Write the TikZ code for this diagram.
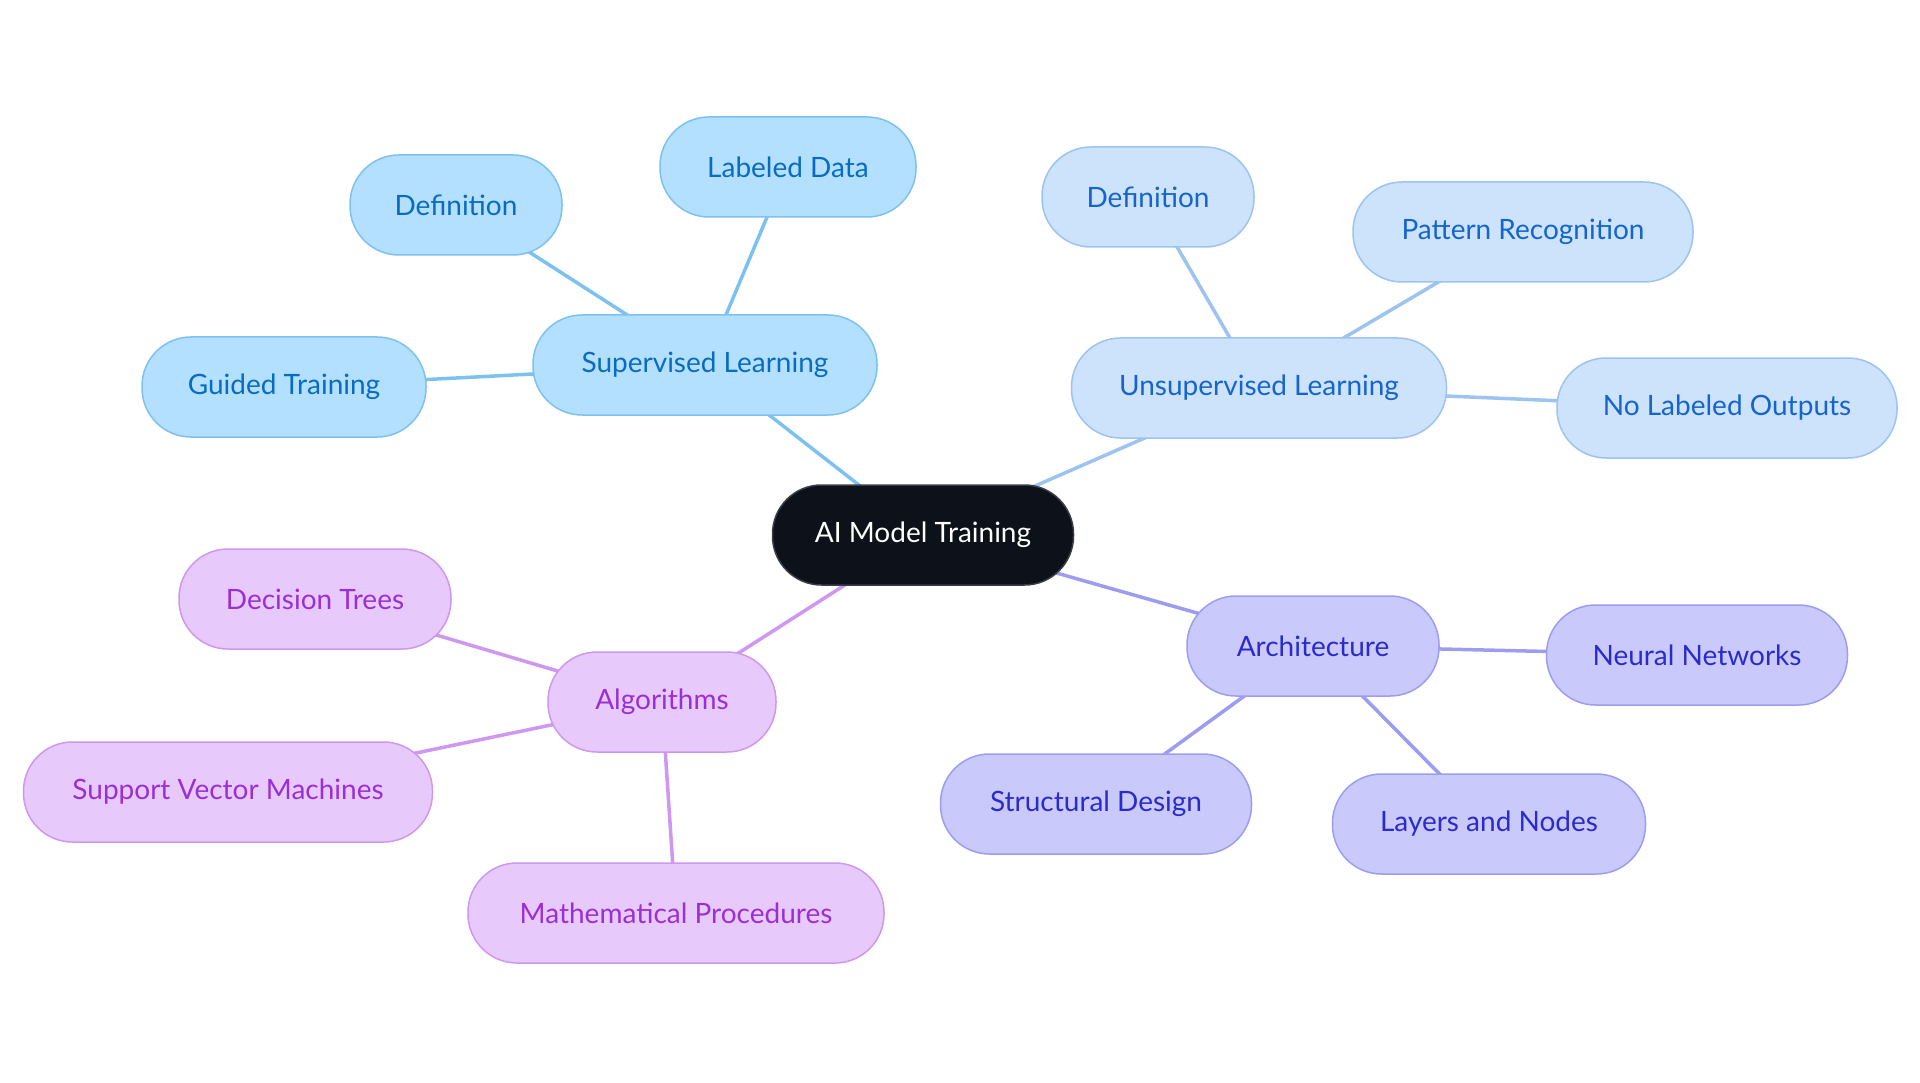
\documentclass[tikz,border=0pt]{standalone}
\usepackage{fontspec}
\setmainfont{Lato}
\usetikzlibrary{backgrounds}
\definecolor{rootfill}{HTML}{0C111A}
\definecolor{rootline}{HTML}{3A3D44}
\definecolor{supfill}{HTML}{B3E0FE}
\definecolor{supline}{HTML}{7DC1F0}
\definecolor{suptext}{HTML}{0A6CC0}
\definecolor{unsfill}{HTML}{CDE2FB}
\definecolor{unsline}{HTML}{9DC3F0}
\definecolor{unstext}{HTML}{1565CC}
\definecolor{arcfill}{HTML}{C9C9FC}
\definecolor{arcline}{HTML}{9C9DF0}
\definecolor{arctext}{HTML}{2B2BCB}
\definecolor{algfill}{HTML}{E8C9FC}
\definecolor{algline}{HTML}{CE97F0}
\definecolor{algtext}{HTML}{9A2FD6}
\tikzset{
  x=1pt, y=-1pt,
  base/.style={rounded corners=49pt, minimum height=100pt, line width=1.5pt,
    font=\fontsize{28}{34}\selectfont, inner sep=0pt},
  rootbox/.style={base, fill=rootfill, draw=rootline, text=white},
  supbox/.style={base, fill=supfill, draw=supline, text=suptext},
  unsbox/.style={base, fill=unsfill, draw=unsline, text=unstext},
  arcbox/.style={base, fill=arcfill, draw=arcline, text=arctext},
  algbox/.style={base, fill=algfill, draw=algline, text=algtext},
  link/.style={line width=3.5pt},
}
\begin{document}
\begin{tikzpicture}
\useasboundingbox (0,0) rectangle (1920,1083);
\node[rootbox, minimum width=301pt] (root) at (923,535) {AI Model Training};
\node[supbox, minimum width=344pt] (sup) at (705,365) {Supervised Learning};
\node[supbox, minimum width=212pt] (supdef) at (456,205) {Definition};
\node[supbox, minimum width=256pt] (lab) at (788,167) {Labeled Data};
\node[supbox, minimum width=284pt] (guid) at (284,387) {Guided Training};
\node[unsbox, minimum width=375pt] (uns) at (1259,388) {Unsupervised Learning};
\node[unsbox, minimum width=212pt] (unsdef) at (1148,197) {Definition};
\node[unsbox, minimum width=340pt] (pat) at (1523,232) {Pattern Recognition};
\node[unsbox, minimum width=340pt] (nolab) at (1727,408) {No Labeled Outputs};
\node[arcbox, minimum width=252pt] (arc) at (1313,646) {Architecture};
\node[arcbox, minimum width=301pt] (nn) at (1697,655) {Neural Networks};
\node[arcbox, minimum width=311pt] (sd) at (1096,804) {Structural Design};
\node[arcbox, minimum width=313pt] (ln) at (1489,824) {Layers and Nodes};
\node[algbox, minimum width=228pt] (alg) at (662,702) {Algorithms};
\node[algbox, minimum width=272pt] (dt) at (315,599) {Decision Trees};
\node[algbox, minimum width=409pt] (svm) at (228,792) {Support Vector Machines};
\node[algbox, minimum width=416pt] (math) at (676,913) {Mathematical Procedures};
\begin{scope}[on background layer]
\draw[link, supline] (root.center) -- (sup.center);
\draw[link, supline] (sup.center) -- (supdef.center);
\draw[link, supline] (sup.center) -- (lab.center);
\draw[link, supline] (sup.center) -- (guid.center);
\draw[link, unsline] (root.center) -- (uns.center);
\draw[link, unsline] (uns.center) -- (unsdef.center);
\draw[link, unsline] (uns.center) -- (pat.center);
\draw[link, unsline] (uns.center) -- (nolab.center);
\draw[link, arcline] (root.center) -- (arc.center);
\draw[link, arcline] (arc.center) -- (nn.center);
\draw[link, arcline] (arc.center) -- (sd.center);
\draw[link, arcline] (arc.center) -- (ln.center);
\draw[link, algline] (root.center) -- (alg.center);
\draw[link, algline] (alg.center) -- (dt.center);
\draw[link, algline] (alg.center) -- (svm.center);
\draw[link, algline] (alg.center) -- (math.center);
\end{scope}
\end{tikzpicture}
\end{document}
